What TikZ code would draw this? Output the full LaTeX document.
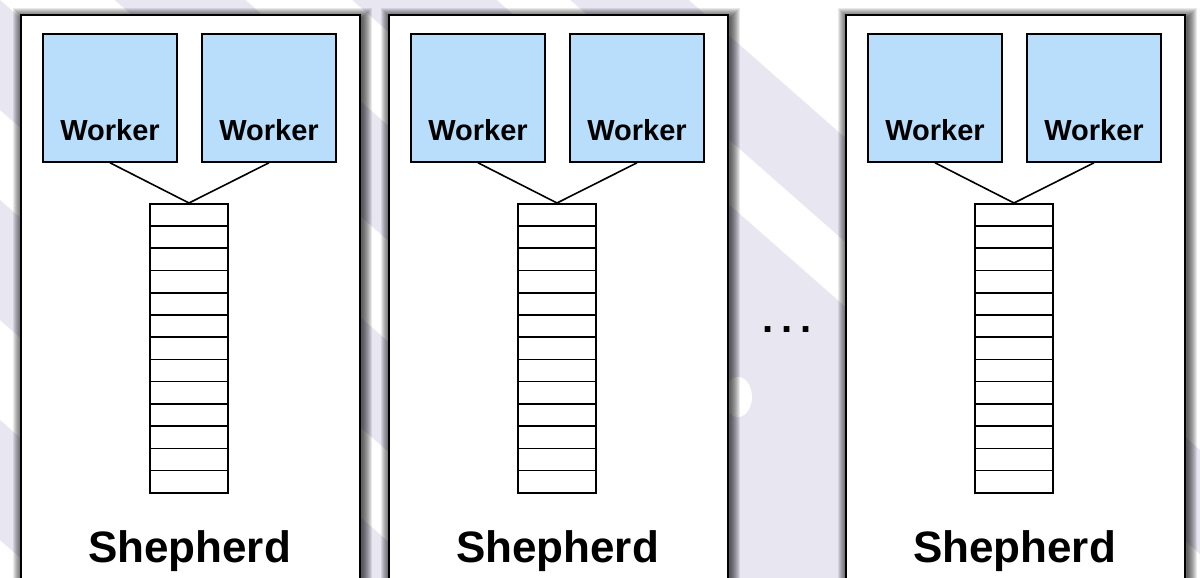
\documentclass[tikz,border=0pt]{standalone}
\usepackage{fontspec}
\setmainfont{Liberation Sans}
\definecolor{lav}{HTML}{E8E6F1}
\definecolor{wblue}{HTML}{B8DEFB}
\begin{document}
\begin{tikzpicture}[x=1pt,y=-1pt,
  shepbox/.style={draw=black, line width=1.8pt, fill=white, minimum width=339pt, minimum height=600pt, inner sep=0pt, anchor=north west},
  workerbox/.style={draw=black, line width=1.6pt, fill=wblue, minimum width=134pt, minimum height=128pt, inner sep=0pt},
  wtext/.style={font=\fontsize{29}{30}\selectfont\bfseries, anchor=base, inner sep=0pt},
  cell/.style={draw=black, line width=1.6pt, fill=white, minimum width=78pt, minimum height=22.23pt, inner sep=0pt, anchor=north},
  link/.style={draw=black, line width=1.6pt},
  stext/.style={font=\fontsize{44}{48}\selectfont\bfseries, anchor=base, inner sep=0pt},
  band/.style={fill=lav}]
\clip (0,0) rectangle (1200,578);
\fill[white] (0,0) rectangle (1200,578);
% background stripes
\foreach \ca/\cb in {-606/-502,-437/-310,-216/-101,0/110,200/320,420/540,640/760}{
  \fill[band] (-50,-44+\ca) -- (1250,1100+\ca) -- (1250,1100+\cb) -- (-50,-44+\cb) -- cycle;
}
\fill[band] (700,181) -- (860,322) -- (860,578) -- (700,578) -- cycle;
\fill[white] (738,397) ellipse [x radius=14, y radius=20];
% shepherds
\foreach \o/\k in {0/1,368/2,825/3}{
  \begin{scope}[xshift=\o pt]
    \foreach \i in {1,...,10}{
      \fill[black, opacity=0.085] (20-\i+3,14-\i+4) rectangle (359+\i+3,600);
    }
    \node[shepbox] (box\k) at (20,14) {};
    \node[workerbox] (wa\k) at (110,98) {};
    \node[workerbox] (wb\k) at (269,98) {};
    \node[wtext] (ta\k) at ([yshift=22pt]wa\k.south) {Worker};
    \node[wtext] (tb\k) at ([yshift=22pt]wb\k.south) {Worker};
    \foreach \i in {0,...,12}{
      \node[cell] (q\k-\i) at (189,203+\i*22.23) {};
    }
    \draw[link] (wa\k.south) -- (q\k-0.north);
    \draw[link] (wb\k.south) -- (q\k-0.north);
    \node[stext] (s\k) at (189.5,562) {Shepherd};
  \end{scope}
}
\node[font=\fontsize{40}{40}\selectfont\bfseries, inner sep=0pt] (dots) at (787,330) {.\hspace{8pt}.\hspace{8pt}.};
\end{tikzpicture}
\end{document}
